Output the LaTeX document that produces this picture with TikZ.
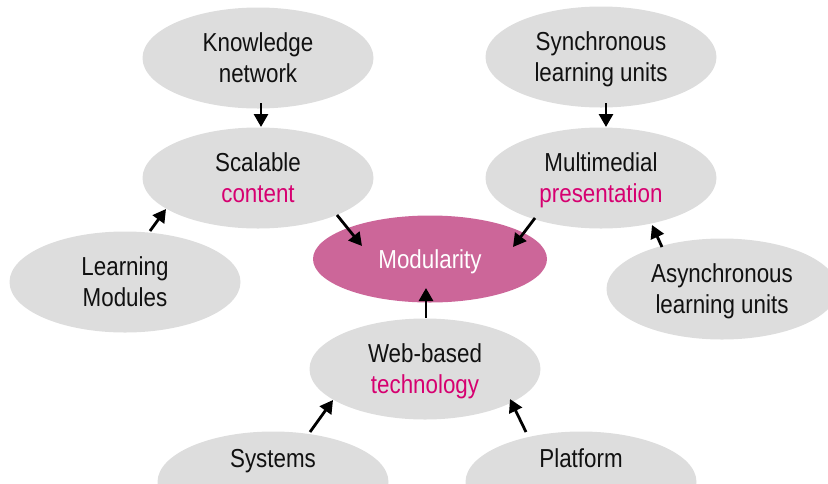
\documentclass[tikz,border=0pt]{standalone}
\usepackage{fontspec}
\setmainfont{Liberation Sans}[FakeStretch=0.86]
\usetikzlibrary{shapes.geometric,arrows.meta,calc}
\definecolor{ellgray}{RGB}{221,221,221}
\definecolor{modpink}{RGB}{204,102,153}
\definecolor{txtpink}{RGB}{214,0,112}
\definecolor{txtdark}{RGB}{17,17,17}
\begin{document}
\begin{tikzpicture}[x=1pt,y=-1pt,
  every node/.style={font=\fontsize{26}{31}\selectfont, text=txtdark},
  ell/.style={ellipse, fill=ellgray, inner sep=0pt, minimum width=231pt, minimum height=101pt, align=center, text depth=0pt},
  modell/.style={ellipse, fill=modpink, inner sep=0pt, minimum width=234pt, minimum height=87pt, align=center, text=white, text depth=0pt},
  lowell/.style={ell, text depth=47pt},
  arr/.style={line width=2.8pt, draw=black, -{Triangle[length=13pt,width=14pt]}}
]
\path[use as bounding box, clip] (0,0) rectangle (828,483);

\node[ell] (kn) at (258,58) {Knowledge\\network};
\node[ell] (sy) at (601,57) {Synchronous\\learning units};
\node[ell] (sc) at (258,178) {Scalable\\\textcolor{txtpink}{content}};
\node[ell] (mm) at (601,178) {Multimedial\\\textcolor{txtpink}{presentation}};
\node[ell] (lm) at (125,282) {Learning\\Modules};
\node[ell] (as) at (722,289) {Asynchronous\\learning units};
\node[modell] (mod) at (430,259) {Modularity};
\node[ell] (wb) at (425,369) {Web-based\\\textcolor{txtpink}{technology}};
\node[lowell] (sys) at (273,482) {Systems};
\node[lowell] (pl) at (581,482) {Platform};

\draw[arr] ($(kn)+(3,45)$) -- ($(sc)+(3,-51)$);
\draw[arr] ($(sy)+(5,46)$) -- ($(mm)+(5,-51)$);
\draw[arr] ($(lm)+(25,-51)$) -- ($(sc)+(-92,31)$);
\draw[arr] ($(sc)+(79,37)$) -- ($(mod)+(-68,-13)$);
\draw[arr] ($(mm)+(-66,40)$) -- ($(mod)+(83,-12)$);
\draw[arr] ($(as)+(-60,-42)$) -- ($(mm)+(51,47)$);
\draw[arr] ($(wb)+(1,-51)$) -- ($(mod)+(-4,29)$);
\draw[arr] ($(sys)+(37,-50)$) -- ($(wb)+(-92,31)$);
\draw[arr] ($(pl)+(-55,-50)$) -- ($(wb)+(85,30)$);
\end{tikzpicture}
\end{document}
